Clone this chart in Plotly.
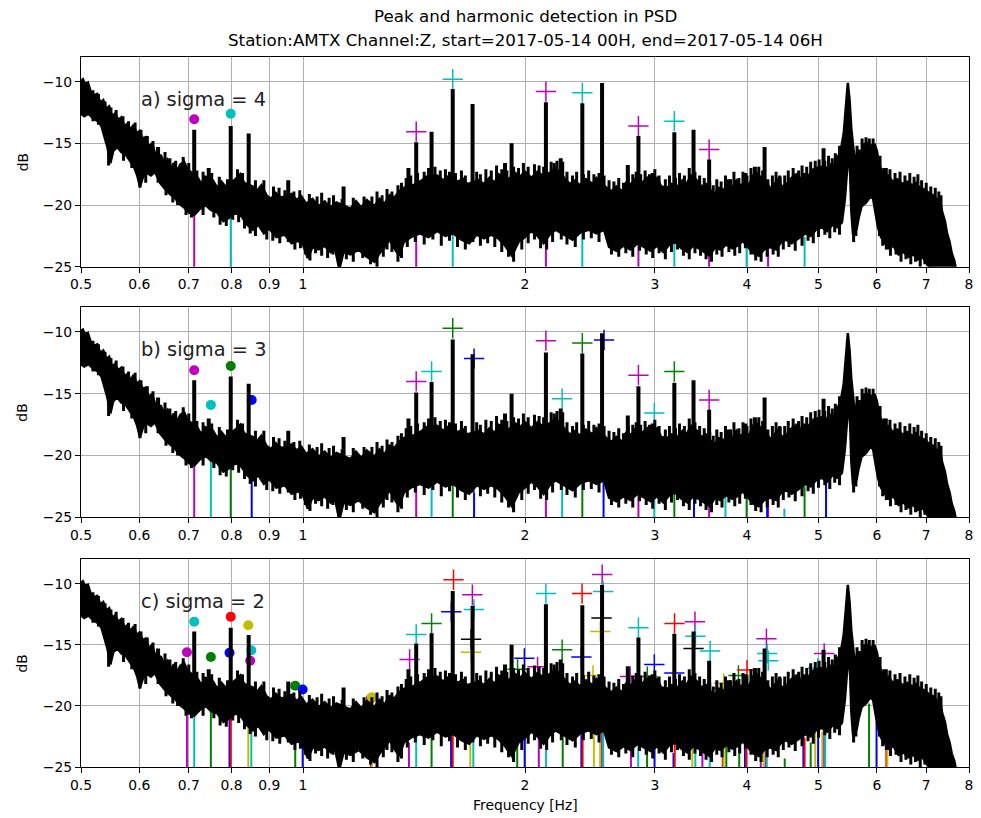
import numpy as np
import plotly.graph_objects as go

# ---------------------------------------------------------------- text
TITLE_1 = "Peak and harmonic detection in PSD"
TITLE_2 = "Station:AMTX Channel:Z, start=2017-05-14 00H, end=2017-05-14 06H"
PANEL_LABELS = ["a) sigma = 4", "b) sigma = 3", "c) sigma = 2"]
X_LABEL = "Frequency [Hz]"
Y_LABEL = "dB"

X_TICKS = [0.5, 0.6, 0.7, 0.8, 0.9, 1, 2, 3, 4, 5, 6, 7, 8]
X_TICK_TEXT = ["0.5", "0.6", "0.7", "0.8", "0.9", "1", "2", "3", "4", "5", "6", "7", "8"]
Y_TICKS = [-25, -20, -15, -10]
Y_TICK_TEXT = ["\u221225", "\u221220", "\u221215", "\u221210"]

# ---------------------------------------------------------------- PSD (dB)
# upper edge of the noisy PSD band
PSD_UPPER = [
    (0.500, -9.9), (0.503, -9.8), (0.507, -10.3), (0.511, -10.1), (0.516, -10.9),
    (0.521, -11.1), (0.526, -11.0), (0.531, -11.7), (0.536, -11.5), (0.541, -12.2),
    (0.546, -12.0), (0.551, -12.8), (0.556, -12.6), (0.562, -13.1), (0.567, -12.9),
    (0.573, -13.6), (0.578, -13.4), (0.584, -13.9), (0.589, -13.5), (0.595, -14.2),
    (0.600, -14.0), (0.606, -14.6), (0.612, -14.5), (0.618, -15.3), (0.624, -15.0),
    (0.630, -15.8), (0.642, -16.0), (0.648, -16.6), (0.655, -16.3), (0.662, -17.0),
    (0.668, -16.6), (0.675, -17.2), (0.682, -16.7), (0.690, -16.5), (0.697, -17.1),
    (0.704, -17.3), (0.720, -17.8), (0.728, -18.3), (0.737, -17.7), (0.755, -18.0),
    (0.765, -18.6), (0.775, -18.1), (0.785, -18.5), (0.810, -17.9), (0.822, -17.5),
    (0.832, -18.2), (0.855, -18.5), (0.865, -18.9), (0.878, -18.4), (0.892, -19.2),
    (0.905, -19.5), (0.918, -19.0), (0.935, -19.4), (0.965, -19.1), (0.980, -19.6),
    (0.995, -19.3), (1.01, -19.9), (1.03, -19.5), (1.05, -20.1), (1.07, -19.7),
    (1.09, -20.2), (1.11, -19.8), (1.16, -20.3), (1.18, -19.7), (1.20, -20.2),
    (1.22, -19.6), (1.25, -20.1), (1.27, -19.5), (1.29, -19.9), (1.31, -19.2),
    (1.33, -19.4), (1.35, -18.9), (1.37, -18.6), (1.41, -18.4), (1.45, -18.0),
    (1.47, -17.7), (1.52, -17.6), (1.55, -18.0), (1.57, -17.7), (1.62, -18.1),
    (1.65, -17.9), (1.67, -18.3), (1.73, -18.0), (1.76, -18.3), (1.79, -17.8),
    (1.82, -18.2), (1.84, -17.5), (1.90, -17.9), (1.94, -17.4), (1.97, -17.7),
    (2.00, -17.3), (2.04, -17.8), (2.08, -17.3), (2.11, -17.6), (2.16, -17.4),
    (2.20, -17.0), (2.27, -17.9), (2.30, -18.3), (2.34, -18.0), (2.37, -18.4),
    (2.42, -17.9), (2.47, -18.3), (2.50, -17.8), (2.58, -18.6), (2.62, -18.9),
    (2.66, -18.5), (2.71, -18.9), (2.74, -18.2), (2.79, -18.3), (2.82, -17.9),
    (2.88, -18.2), (2.93, -17.8), (2.96, -18.2), (3.02, -17.8), (3.06, -18.5),
    (3.12, -18.6), (3.16, -18.3), (3.22, -18.5), (3.27, -18.0), (3.31, -18.3),
    (3.36, -17.6), (3.42, -18.0), (3.47, -18.5), (3.52, -18.3), (3.58, -18.9),
    (3.62, -19.1), (3.66, -18.6), (3.72, -18.8), (3.76, -18.3), (3.82, -18.6),
    (3.87, -18.0), (3.93, -18.5), (3.97, -18.0), (4.03, -18.4), (4.07, -17.6),
    (4.12, -17.4), (4.18, -17.8), (4.24, -18.0), (4.30, -18.7), (4.36, -18.3),
    (4.40, -18.0), (4.46, -18.5), (4.53, -18.3), (4.58, -17.9), (4.64, -17.6),
    (4.72, -17.9), (4.78, -17.5), (4.85, -17.6), (4.92, -17.1), (4.98, -17.0),
    (5.04, -16.9), (5.12, -17.1), (5.18, -16.7), (5.25, -16.8), (5.30, -16.3),
    (5.36, -15.6), (5.41, -14.2), (5.45, -12.0), (5.48, -10.1), (5.51, -11.5),
    (5.54, -13.8), (5.58, -15.6), (5.62, -16.4), (5.66, -15.8), (5.70, -16.2),
    (5.75, -15.1), (5.82, -15.0), (5.90, -15.2), (5.96, -15.1), (6.00, -15.6),
    (6.04, -16.6), (6.10, -17.4), (6.15, -17.7), (6.22, -17.6), (6.30, -18.1),
    (6.40, -17.9), (6.50, -18.3), (6.60, -18.1), (6.70, -18.4), (6.78, -18.2),
    (6.86, -18.6), (6.95, -18.7), (7.05, -19.0), (7.15, -19.2), (7.25, -19.6),
    (7.30, -19.5), (7.36, -20.6), (7.42, -21.3), (7.47, -22.3), (7.53, -23.0),
    (7.58, -23.9), (7.64, -24.5), (7.70, -25.3),
]

# lower edge of the noisy PSD band
PSD_LOWER = [
    (0.500, -12.6), (0.505, -12.8), (0.512, -12.6), (0.520, -13.0), (0.527, -13.2),
    (0.533, -13.6), (0.538, -14.4), (0.543, -15.3), (0.548, -16.6), (0.553, -15.6),
    (0.560, -15.3), (0.567, -15.7), (0.575, -15.9), (0.582, -16.4), (0.590, -16.9),
    (0.596, -17.6), (0.601, -18.5), (0.607, -17.7), (0.615, -17.4), (0.622, -17.6),
    (0.630, -17.3), (0.640, -18.2), (0.650, -18.7), (0.660, -19.1), (0.670, -19.4),
    (0.680, -19.9), (0.690, -20.2), (0.700, -20.6), (0.712, -20.8), (0.725, -20.3),
    (0.738, -20.0), (0.750, -20.4), (0.765, -20.6), (0.780, -21.3), (0.795, -21.0),
    (0.810, -20.6), (0.825, -20.9), (0.840, -21.6), (0.855, -22.0), (0.870, -21.6),
    (0.885, -22.3), (0.900, -21.9), (0.920, -22.6), (0.945, -22.4), (0.965, -23.1),
    (0.985, -22.9), (1.000, -23.2), (1.015, -24.3), (1.030, -23.4), (1.050, -23.6),
    (1.070, -23.3), (1.090, -23.8), (1.105, -23.5), (1.12, -25.2), (1.135, -23.8),
    (1.16, -24.0), (1.19, -23.6), (1.22, -24.2), (1.25, -24.6), (1.27, -23.9),
    (1.29, -23.4), (1.31, -22.8), (1.33, -23.5), (1.35, -24.1), (1.37, -23.0),
    (1.40, -22.6), (1.44, -22.3), (1.48, -22.6), (1.52, -22.1), (1.56, -22.5),
    (1.60, -22.3), (1.64, -22.8), (1.68, -23.1), (1.72, -22.4), (1.76, -22.7),
    (1.80, -22.4), (1.84, -22.7), (1.88, -23.3), (1.92, -24.1), (1.96, -23.0),
    (2.00, -22.6), (2.04, -22.1), (2.08, -22.5), (2.12, -23.1), (2.16, -22.4),
    (2.20, -22.0), (2.26, -22.4), (2.32, -22.8), (2.38, -22.2), (2.44, -22.0),
    (2.50, -22.3), (2.56, -22.0), (2.60, -23.4), (2.66, -23.7), (2.72, -23.3),
    (2.78, -23.6), (2.84, -23.1), (2.90, -23.4), (2.96, -23.7), (3.02, -23.3),
    (3.08, -23.8), (3.14, -23.2), (3.20, -23.0), (3.26, -23.5), (3.32, -23.8),
    (3.38, -23.3), (3.44, -23.5), (3.50, -23.8), (3.56, -24.1), (3.62, -23.4),
    (3.68, -23.6), (3.75, -23.2), (3.82, -23.5), (3.88, -23.3), (3.95, -22.9),
    (4.02, -23.4), (4.08, -23.9), (4.15, -24.1), (4.22, -23.6), (4.30, -23.4),
    (4.38, -23.6), (4.45, -23.0), (4.52, -22.8), (4.60, -23.1), (4.70, -22.7),
    (4.80, -22.3), (4.88, -22.5), (4.96, -22.0), (5.05, -21.8), (5.14, -22.1),
    (5.22, -21.6), (5.30, -21.8), (5.38, -21.4), (5.43, -19.5), (5.47, -17.0),
    (5.50, -15.8), (5.52, -17.5), (5.54, -20.5), (5.57, -22.4), (5.60, -21.8),
    (5.63, -22.0), (5.67, -21.0), (5.72, -20.1), (5.80, -19.8), (5.88, -19.3),
    (5.93, -19.5), (5.97, -20.6), (6.02, -21.8), (6.08, -22.6), (6.14, -23.0),
    (6.22, -23.5), (6.32, -23.3), (6.42, -24.0), (6.52, -23.8), (6.62, -24.2),
    (6.72, -24.0), (6.82, -24.4), (6.92, -24.2), (7.02, -24.8), (7.12, -25.2),
    (7.70, -25.5),
]

# short upward excursions on the top edge of the band (frequency, tip dB)
TEETH_UP = [
    (0.509, -10.0), (0.519, -10.7), (0.528, -11.0), (0.539, -11.6), (0.549, -12.1),
    (0.558, -12.3), (0.570, -12.8), (0.580, -13.2), (0.592, -13.3), (0.603, -13.9),
    (0.615, -14.4), (0.626, -14.8), (0.650, -15.7), (0.660, -16.2), (0.672, -16.4),
    (0.688, -16.1), (0.700, -16.6), (0.718, -17.2), (0.732, -17.3), (0.752, -17.4),
    (0.770, -17.7), (0.790, -17.9), (0.815, -17.1), (0.828, -17.4), (0.862, -18.0),
    (0.885, -18.0), (0.912, -18.5), (0.928, -18.6), (0.945, -18.8), (0.972, -18.9),
    (0.990, -18.8), (1.020, -19.1), (1.045, -19.3), (1.060, -19.0), (1.085, -19.4),
    (1.100, -19.2), (1.130, -19.5), (1.170, -19.4), (1.210, -19.3), (1.240, -19.3),
    (1.260, -18.9), (1.280, -19.2), (1.300, -18.7), (1.320, -18.9), (1.345, -18.4),
    (1.360, -18.2), (1.380, -17.8), (1.400, -17.6), (1.430, -17.4), (1.460, -17.3),
    (1.480, -17.0), (1.510, -16.9), (1.535, -17.2), (1.560, -17.1), (1.580, -17.3),
    (1.610, -17.4), (1.640, -17.2), (1.660, -17.6), (1.720, -17.3), (1.740, -17.5),
    (1.770, -17.1), (1.800, -17.2), (1.830, -16.8), (1.860, -17.1), (1.890, -17.2),
    (1.930, -16.9), (1.960, -17.0), (1.990, -16.6), (2.020, -16.9), (2.060, -16.7),
    (2.090, -16.8), (2.120, -16.9), (2.170, -16.5), (2.190, -16.6), (2.210, -16.4),
    (2.250, -16.5), (2.280, -17.3), (2.320, -17.6), (2.350, -17.3), (2.400, -17.5),
    (2.440, -17.2), (2.480, -17.5), (2.520, -17.4), (2.560, -17.6), (2.600, -18.0),
    (2.640, -18.1), (2.680, -17.8), (2.720, -18.2), (2.760, -17.6), (2.800, -17.5),
    (2.830, -17.3), (2.870, -17.5), (2.910, -17.2), (2.950, -17.5), (3.000, -17.1),
    (3.040, -17.6), (3.100, -17.9), (3.140, -17.6), (3.200, -17.8), (3.240, -17.4),
    (3.290, -17.6), (3.340, -17.0), (3.400, -17.3), (3.450, -17.6), (3.500, -17.8),
    (3.560, -18.1), (3.600, -18.4), (3.640, -17.9), (3.690, -18.1), (3.740, -17.6),
    (3.800, -17.9), (3.840, -17.3), (3.900, -17.8), (3.950, -17.3), (4.000, -17.6),
    (4.050, -17.0), (4.150, -16.9), (4.200, -17.2), (4.270, -17.9), (4.330, -17.6),
    (4.380, -17.3), (4.430, -17.6), (4.500, -17.6), (4.550, -17.2), (4.620, -17.0),
    (4.700, -17.2), (4.750, -16.8), (4.820, -16.9), (4.880, -16.5), (4.950, -16.4),
    (5.010, -16.3), (5.100, -16.4), (5.160, -16.0), (5.220, -16.2), (5.270, -15.8),
    (5.340, -15.2), (5.640, -15.2), (5.680, -15.5), (5.730, -14.6), (5.800, -14.5),
    (5.860, -14.6), (5.930, -14.6), (6.060, -16.0), (6.130, -17.0), (6.180, -17.0),
    (6.250, -17.1), (6.350, -17.4), (6.450, -17.3), (6.550, -17.6), (6.650, -17.4),
    (6.740, -17.7), (6.820, -17.5), (6.900, -18.0), (7.000, -18.2), (7.100, -18.5),
    (7.200, -18.6), (7.280, -18.9), (7.330, -19.2),
]

# short downward excursions on the bottom edge of the band (frequency, tip dB)
TEETH_DOWN = [
    (0.545, -16.8), (0.571, -16.4), (0.586, -17.0), (0.601, -18.6), (0.612, -18.2),
    (0.636, -18.2), (0.652, -19.2), (0.666, -19.8), (0.676, -20.0), (0.694, -20.8),
    (0.706, -21.0), (0.732, -20.8), (0.757, -21.0), (0.772, -21.6), (0.787, -21.7),
    (0.803, -21.2), (0.818, -21.4), (0.833, -21.9), (0.848, -22.3), (0.862, -22.5),
    (0.879, -22.0), (0.893, -22.8), (0.910, -22.9), (0.930, -23.1), (0.955, -23.0),
    (0.975, -23.6), (0.992, -23.5), (1.008, -24.0), (1.022, -24.5), (1.040, -23.9),
    (1.060, -24.1), (1.080, -24.3), (1.098, -24.0), (1.120, -25.3), (1.145, -24.4),
    (1.170, -24.6), (1.205, -24.3), (1.235, -24.8), (1.260, -25.2), (1.285, -24.2),
    (1.300, -23.6), (1.320, -23.8), (1.345, -24.6), (1.360, -24.3), (1.385, -23.4),
    (1.420, -23.0), (1.460, -23.2), (1.500, -22.8), (1.540, -23.3), (1.580, -22.9),
    (1.620, -23.4), (1.660, -23.6), (1.700, -23.0), (1.740, -23.3), (1.780, -23.1),
    (1.820, -23.4), (1.860, -23.8), (1.900, -24.2), (1.930, -24.6), (1.980, -23.6),
    (2.020, -23.1), (2.060, -22.8), (2.100, -23.5), (2.140, -23.6), (2.180, -23.0),
    (2.240, -22.8), (2.280, -23.2), (2.340, -23.4), (2.400, -22.8), (2.460, -22.7),
    (2.520, -23.0), (2.580, -22.7), (2.620, -24.0), (2.680, -24.2), (2.740, -23.9),
    (2.800, -24.2), (2.860, -23.7), (2.920, -24.0), (2.980, -24.3), (3.040, -23.9),
    (3.100, -24.4), (3.160, -23.8), (3.220, -23.6), (3.280, -24.1), (3.340, -24.4),
    (3.400, -23.9), (3.460, -24.1), (3.520, -24.4), (3.580, -24.6), (3.640, -24.0),
    (3.700, -24.2), (3.780, -23.8), (3.850, -24.1), (3.910, -23.9), (3.980, -23.5),
    (4.050, -24.0), (4.110, -24.5), (4.180, -24.6), (4.260, -24.2), (4.340, -24.0),
    (4.410, -24.2), (4.480, -23.6), (4.560, -23.4), (4.650, -23.7), (4.750, -23.3),
    (4.840, -22.9), (4.920, -23.1), (5.000, -22.6), (5.100, -22.4), (5.180, -22.7),
    (5.260, -22.2), (5.340, -22.4), (5.580, -23.0), (5.620, -22.5), (6.050, -22.5),
    (6.110, -23.3), (6.180, -23.6), (6.260, -24.1), (6.370, -24.0), (6.470, -24.6),
    (6.570, -24.4), (6.670, -24.8), (6.770, -24.6), (6.870, -25.0), (6.970, -24.8),
]

# narrow spectral lines standing out of the band: frequency, peak, foot
SPIKE_F = [0.636, 0.712, 0.745, 0.798, 0.844, 0.955, 1.135, 1.39, 1.424, 1.494,
           1.596, 1.698, 1.879, 1.918, 2.135, 2.236, 2.392, 2.544, 2.757, 2.85,
           2.98, 3.188, 3.385, 3.554, 3.78, 3.98, 4.10, 4.226, 4.43, 4.68, 5.08, 5.32]
SPIKE_PEAK = [-15.3, -13.9, -17.0, -13.6, -14.2, -18.0, -18.5, -17.0, -14.9, -14.05,
              -10.6, -11.8, -16.6, -15.0, -11.67, -16.2, -11.75, -10.1, -16.75, -14.4,
              -17.4, -14.1, -13.9, -16.3, -17.9, -17.4, -16.9, -15.3, -17.7, -17.4, -15.4, -16.0]
SPIKE_FOOT = [-16.5, -18.0, -18.5, -18.5, -18.5, -19.5, -20.3, -19.0, -19.0, -18.5,
              -18.5, -18.5, -18.3, -18.3, -18.0, -18.0, -18.5, -18.5, -18.5, -18.5,
              -18.5, -18.8, -18.5, -19.0, -19.0, -18.8, -18.5, -18.5, -18.8, -18.2, -17.5, -17.0]

# ---------------------------------------------------------------- detections
# a) sigma = 4
A_PEAK_F = [0.712, 0.798]
A_PEAK_DB = [-13.05, -12.6]
A_PEAK_C = ["m", "c"]
A_HARM_F = [1.424, 1.596, 2.135, 2.392, 2.85, 3.188, 3.554]
A_HARM_DB = [-14.05, -9.8, -10.8, -10.9, -13.6, -13.2, -15.5]
A_HARM_C = ["m", "c", "m", "c", "m", "c", "m"]
A_LINE_F = [0.712, 0.798, 1.424, 1.596, 2.135, 2.392, 2.85, 3.188, 3.554, 3.995, 4.272, 4.788]
A_LINE_TOP = [-20.7, -20.95, -21.3, -21.0, -22.7, -21.3, -22.6, -22.4, -23.4, -22.4, -22.0, -22.6]
A_LINE_C = ["m", "c", "m", "c", "m", "c", "m", "c", "m", "c", "m", "c"]

# b) sigma = 3
B_PEAK_F = [0.712, 0.750, 0.798, 0.852]
B_PEAK_DB = [-13.1, -15.9, -12.75, -15.5]
B_PEAK_C = ["m", "c", "g", "b"]
B_HARM_F = [1.424, 1.494, 1.596, 1.706, 2.135, 2.246, 2.392, 2.56, 2.85, 2.995, 3.188, 3.554]
B_HARM_DB = [-14.0, -13.2, -9.7, -12.15, -10.7, -15.4, -10.9, -10.65, -13.5, -16.55, -13.2, -15.5]
B_HARM_C = ["m", "c", "g", "b", "m", "c", "g", "b", "m", "c", "g", "m"]
B_LINE_F = [0.712, 0.750, 0.798, 0.852, 1.424, 1.494, 1.596, 1.706, 2.135, 2.246, 2.392, 2.556,
            2.85, 2.995, 3.188, 3.39, 3.554, 3.74, 3.995, 4.26, 4.272, 4.495, 4.788, 5.12]
B_LINE_TOP = [-20.6, -20.35, -21.0, -21.7, -21.3, -21.4, -21.0, -23.0, -22.8, -21.4, -21.4, -21.3,
              -23.05, -22.5, -22.4, -22.1, -23.5, -23.05, -22.4, -22.0, -22.3, -24.3, -22.5, -21.2]
B_LINE_C = ["m", "c", "g", "b"] * 6

# c) sigma = 2
C_PEAK_F = [0.696, 0.712, 0.750, 0.795, 0.798, 0.843, 0.851, 0.848, 0.976, 0.999, 1.236, 1.240]
C_PEAK_DB = [-15.6, -13.1, -16.0, -15.65, -12.7, -13.4, -15.45, -16.3, -18.35, -18.65, -19.4, -19.3]
C_PEAK_C = ["m", "c", "g", "b", "r", "y", "c", "m", "g", "b", "r", "y"]
C_HARM_F = [1.395, 1.424, 1.494, 1.589, 1.600, 1.690, 1.690, 1.697, 1.705, 1.954,
            1.996, 2.080, 2.135, 2.246, 2.385, 2.390, 2.473, 2.530, 2.540, 2.545,
            2.553, 2.777, 2.850, 2.930, 2.995, 3.188, 3.190, 3.385, 3.400, 3.405,
            3.565, 3.720, 3.720, 3.895, 4.000, 4.250, 4.260, 4.275, 4.990, 5.090]
C_HARM_DB = [-16.2, -14.15, -13.25, -12.3, -9.67, -15.6, -14.55, -10.9, -12.1, -17.0,
             -16.1, -16.8, -10.8, -15.4, -16.0, -10.8, -17.5, -13.9, -12.8, -9.25,
             -10.63, -17.6, -13.6, -17.6, -16.6, -17.3, -13.25, -15.3, -13.1, -14.3,
             -15.5, -18.55, -18.15, -17.5, -17.05, -14.5, -15.7, -16.3, -16.9, -15.7]
C_HARM_C = ["m", "c", "g", "b", "r", "y", "k", "m", "c", "g",
            "b", "m", "c", "g", "b", "r", "y", "y", "k", "m",
            "c", "m", "c", "g", "b", "b", "r", "k", "m", "c",
            "c", "r", "y", "g", "r", "m", "c", "c", "c", "m"]
C_LINE_F = [0.696, 0.712, 0.750, 0.795, 0.798, 0.843, 0.851, 0.976, 0.999, 1.236, 1.240,
            1.392, 1.424, 1.494, 1.588, 1.596, 1.686, 1.702, 1.952, 1.998, 2.088, 2.136,
            2.250, 2.385, 2.394, 2.480, 2.529, 2.544, 2.553, 2.784, 2.848, 2.928, 2.997,
            3.180, 3.192, 3.372, 3.404, 3.480, 3.560, 3.708, 3.720, 3.750, 3.904, 3.975,
            3.990, 4.176, 4.215, 4.240, 4.255, 4.500, 4.770, 4.788, 4.880, 4.950, 4.995,
            5.060, 5.088, 5.106, 5.856, 5.994, 6.180, 6.200]
C_LINE_TOP = [-20.06, -20.6, -20.3, -21.1, -20.9, -20.9, -21.4, -22.5, -22.1, -23.6, -23.6,
              -23.0, -21.4, -21.4, -21.1, -21.1, -22.0, -23.0, -22.5, -21.7, -22.2, -22.8,
              -21.4, -22.2, -21.4, -22.2, -22.0, -21.4, -21.4, -22.4, -22.8, -23.0, -22.5,
              -23.85, -22.5, -21.0, -22.2, -23.75, -23.6, -23.85, -23.0, -23.3, -23.2, -22.2,
              -22.5, -22.9, -22.8, -22.1, -22.1, -24.3, -22.5, -22.6, -23.0, -22.2, -22.1,
              -22.1, -21.1, -21.4, -19.8, -21.3, -22.1, -22.1]
C_LINE_C = ["m", "c", "g", "b", "r", "y", "c", "g", "b", "r", "y",
            "m", "c", "g", "b", "r", "y", "c", "g", "b", "m", "c",
            "g", "b", "r", "y", "y", "m", "c", "m", "c", "g", "b",
            "b", "r", "y", "c", "m", "c", "r", "y", "g", "g", "b",
            "r", "m", "y", "m", "c", "g", "b", "r", "g", "y", "b",
            "y", "m", "c", "g", "b", "r", "y"]

# matplotlib single-letter colours
COLORS = {"m": "#bf00bf", "c": "#00bfbf", "g": "#008000", "b": "#0000ff",
          "r": "#ff0000", "y": "#bfbf00", "k": "#000000"}

PANELS = [
    (A_PEAK_F, A_PEAK_DB, A_PEAK_C, A_HARM_F, A_HARM_DB, A_HARM_C, A_LINE_F, A_LINE_TOP, A_LINE_C),
    (B_PEAK_F, B_PEAK_DB, B_PEAK_C, B_HARM_F, B_HARM_DB, B_HARM_C, B_LINE_F, B_LINE_TOP, B_LINE_C),
    (C_PEAK_F, C_PEAK_DB, C_PEAK_C, C_HARM_F, C_HARM_DB, C_HARM_C, C_LINE_F, C_LINE_TOP, C_LINE_C),
]

# ---------------------------------------------------------------- layout geometry
W, H = 981, 818
M_L, M_R, M_T, M_B = 81, 8, 57, 51
DOMAINS = [[0.7046, 1.0], [0.3517, 0.6475], [0.0, 0.2925]]
Y_RANGE = [-25, -8.0]
X_RANGE = [np.log10(0.5), np.log10(8)]
FONT = "DejaVu Sans"
TOOTH_DEPTH = 2.5   # how far each edge excursion reaches back into the band (dB)

fig = go.Figure()

up_f, up_db = zip(*PSD_UPPER)
lo_f, lo_db = zip(*PSD_LOWER)
band_x = list(up_f) + list(lo_f)[::-1]
band_y = list(up_db) + list(lo_db)[::-1]


def segments(xs, y0s, y1s):
    """Pack vertical segments into one None-separated polyline."""
    px, py = [], []
    for x, a, b in zip(xs, y0s, y1s):
        px += [x, x, None]
        py += [a, b, None]
    return px, py


spike_x, spike_y = segments(SPIKE_F, SPIKE_FOOT, SPIKE_PEAK)
tu_f, tu_db = zip(*TEETH_UP)
td_f, td_db = zip(*TEETH_DOWN)
tooth_up_x, tooth_up_y = segments(tu_f, [v - TOOTH_DEPTH for v in tu_db], tu_db)
tooth_dn_x, tooth_dn_y = segments(td_f, [v + TOOTH_DEPTH for v in td_db], td_db)
tooth_x = tooth_up_x + tooth_dn_x
tooth_y = tooth_up_y + tooth_dn_y

for i, (pf, pdb, pc, hf, hdb, hc, lf, ltop, lc) in enumerate(PANELS):
    xa = "x" if i == 0 else f"x{i + 1}"
    ya = "y" if i == 0 else f"y{i + 1}"

    # vertical markers at every detected frequency, one trace per colour
    for key in COLORS:
        sel = [(f, t) for f, t, c in zip(lf, ltop, lc) if c == key]
        if not sel:
            continue
        xs, ys = segments([s[0] for s in sel], [-26] * len(sel), [s[1] for s in sel])
        fig.add_trace(go.Scatter(x=xs, y=ys, mode="lines", xaxis=xa, yaxis=ya,
                                 line=dict(color=COLORS[key], width=2),
                                 hoverinfo="skip", showlegend=False))

    # detected fundamental peaks
    fig.add_trace(go.Scatter(x=pf, y=pdb, mode="markers", xaxis=xa, yaxis=ya,
                             marker=dict(symbol="circle", size=10,
                                         color=[COLORS[c] for c in pc], line=dict(width=0)),
                             hoverinfo="skip", showlegend=False))
    # harmonics
    fig.add_trace(go.Scatter(x=hf, y=hdb, mode="markers", xaxis=xa, yaxis=ya,
                             marker=dict(symbol="cross-thin", size=14.5,
                                         line=dict(color=[COLORS[c] for c in hc], width=1.5)),
                             hoverinfo="skip", showlegend=False))

    # the PSD itself: band, edge excursions and spectral lines
    fig.add_trace(go.Scatter(x=band_x, y=band_y, mode="lines", xaxis=xa, yaxis=ya,
                             fill="toself", fillcolor="black",
                             line=dict(color="black", width=2.5),
                             hoverinfo="skip", showlegend=False))
    fig.add_trace(go.Scatter(x=tooth_x, y=tooth_y, mode="lines", xaxis=xa, yaxis=ya,
                             line=dict(color="black", width=3),
                             hoverinfo="skip", showlegend=False))
    fig.add_trace(go.Scatter(x=spike_x, y=spike_y, mode="lines", xaxis=xa, yaxis=ya,
                             line=dict(color="black", width=4),
                             hoverinfo="skip", showlegend=False))

axis_common = dict(showline=True, linecolor="black", linewidth=1.1, mirror=True,
                   ticks="outside", ticklen=5, tickwidth=1.1, tickcolor="black",
                   showgrid=True, gridcolor="#b0b0b0", gridwidth=1, zeroline=False,
                   tickfont=dict(family=FONT, size=13.9, color="black"))

layout = dict(width=W, height=H, margin=dict(l=M_L, r=M_R, t=M_T, b=M_B),
              paper_bgcolor="white", plot_bgcolor="white",
              font=dict(family=FONT, color="black"), showlegend=False)

annotations = []
for i in range(3):
    sx = "" if i == 0 else str(i + 1)
    layout["xaxis" + sx] = dict(axis_common, type="log", range=X_RANGE,
                                tickvals=X_TICKS, ticktext=X_TICK_TEXT,
                                anchor="y" + sx, domain=[0, 1])
    layout["yaxis" + sx] = dict(axis_common, range=Y_RANGE, tickvals=Y_TICKS,
                                ticktext=Y_TICK_TEXT, anchor="x" + sx, domain=DOMAINS[i])
    annotations.append(dict(text=PANEL_LABELS[i], x=np.log10(0.6), y=-11.45,
                            xref="x" + sx, yref="y" + sx, xanchor="left", yanchor="middle",
                            showarrow=False, font=dict(family=FONT, size=19.4, color="#222")))
    annotations.append(dict(text=Y_LABEL, x=-0.066, y=sum(DOMAINS[i]) / 2,
                            xref="paper", yref="paper", textangle=-90,
                            xanchor="center", yanchor="middle", showarrow=False,
                            font=dict(family=FONT, size=13.9, color="black")))

plot_h = H - M_T - M_B
annotations.append(dict(text=TITLE_1, x=0.5, y=1 + 41 / plot_h, xref="paper", yref="paper",
                        xanchor="center", yanchor="middle", showarrow=False,
                        font=dict(family=FONT, size=16.7, color="black")))
annotations.append(dict(text=TITLE_2, x=0.5, y=1 + 17 / plot_h, xref="paper", yref="paper",
                        xanchor="center", yanchor="middle", showarrow=False,
                        font=dict(family=FONT, size=16.7, color="black")))
annotations.append(dict(text=X_LABEL, x=0.5, y=-38 / plot_h, xref="paper", yref="paper",
                        xanchor="center", yanchor="middle", showarrow=False,
                        font=dict(family=FONT, size=13.9, color="black")))
layout["annotations"] = annotations

fig.update_layout(**layout)
fig.write_html("out.html")
